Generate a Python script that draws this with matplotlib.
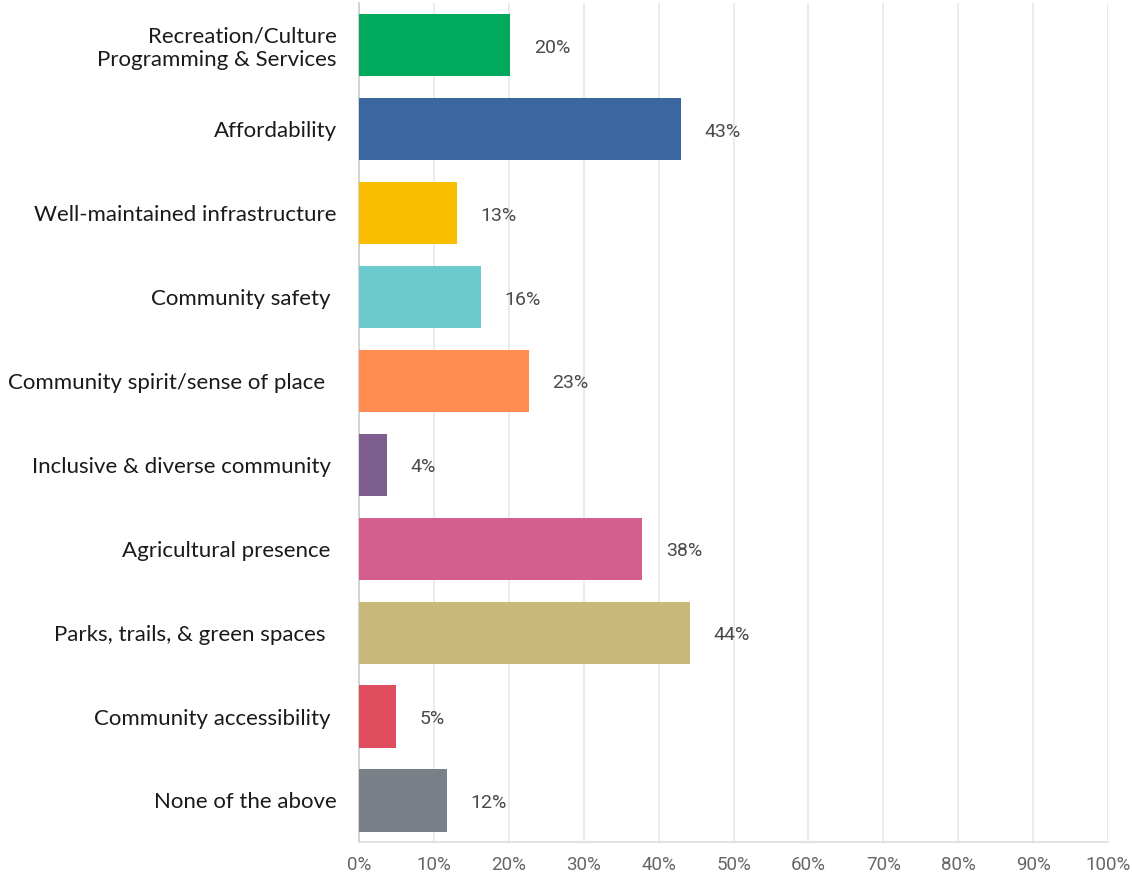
import matplotlib
matplotlib.use("Agg")
import matplotlib.pyplot as plt
from matplotlib.ticker import FuncFormatter

# ── Data ─────────────────────────────────────────────────────────────────────
categories = [
    "Recreation/Culture\nProgramming & Services",
    "Affordability",
    "Well-maintained infrastructure",
    "Community safety ",
    "Community spirit/sense of place  ",
    "Inclusive & diverse community ",
    "Agricultural presence ",
    "Parks, trails, & green spaces  ",
    "Community accessibility ",
    "None of the above",
]
values = [20.2, 43.0, 13.1, 16.3, 22.7, 3.7, 37.8, 44.2, 4.9, 11.7]
value_labels = ["20%", "43%", "13%", "16%", "23%", "4%", "38%", "44%", "5%", "12%"]
colors = ["#00A95C", "#3A67A0", "#F9BE00", "#6CCACD", "#FF8C50",
          "#7E5E8F", "#D45F8F", "#C8B97A", "#DF4C5E", "#7A8087"]
x_ticks = [0, 10, 20, 30, 40, 50, 60, 70, 80, 90, 100]

# ── Plot ─────────────────────────────────────────────────────────────────────
fig = plt.figure(figsize=(11.32, 8.84), dpi=100)
ax = fig.add_axes([0.317, 0.047, 0.662, 0.9497])

ypos = list(range(len(categories)))
ax.barh(ypos, values, height=0.74, color=colors, zorder=3)

for y, v, lab in zip(ypos, values, value_labels):
    ax.annotate(lab, (v, y), xytext=(17, -2), textcoords="offset points",
                ha="left", va="center", fontsize=14, color="#4a4a4a",
                family="Roboto")

ax.set_ylim(len(categories) - 0.5, -0.5)
ax.set_xlim(0, 100)
ax.set_xticks(x_ticks)
ax.xaxis.set_major_formatter(FuncFormatter(lambda v, p: f"{v:.0f}%"))
ax.set_yticks(ypos)
ax.set_yticklabels(categories, fontsize=16, family="Lato", color="#1a1a1a")

ax.grid(axis="x", color="#e8e8e8", linewidth=1.2, zorder=0)
ax.tick_params(axis="y", length=0, pad=16)
ax.tick_params(axis="x", length=0, pad=10, labelsize=13.5, labelcolor="#666666")
for lab in ax.get_xticklabels():
    lab.set_family("Roboto")

for s in ["top", "right"]:
    ax.spines[s].set_visible(False)
ax.spines["left"].set_color("#cccccc")
ax.spines["bottom"].set_color("#dddddd")
ax.spines["left"].set_linewidth(1.2)
ax.spines["bottom"].set_linewidth(1.2)

fig.savefig("out.png", dpi=100)
